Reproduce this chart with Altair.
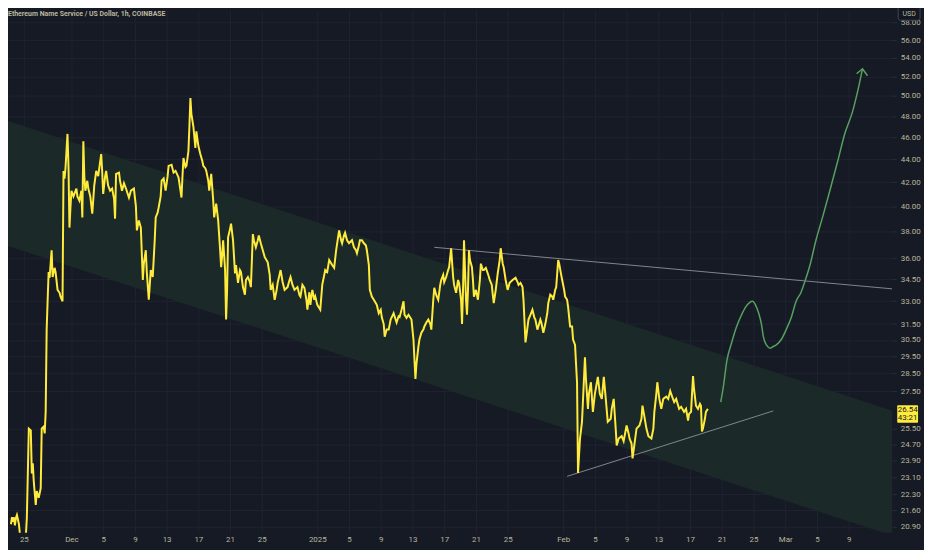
import altair as alt
import numpy as np
import pandas as pd

TITLE = "Ethereum Name Service / US Dollar, 1h, COINBASE"
BASE = pd.Timestamp("2024-11-22 00:00:00")
STEP_H = 3  # one time step = 3 hours after BASE

# ENS/USD hourly close, sampled (time in 3h steps after Nov 22, price in USD)
t3h = [
    11, 12, 13, 14, 15, 16, 17, 18, 19, 20,
    23, 26, 27, 29, 31, 32, 33, 34, 36, 37,
    39, 41, 42, 44, 45, 46, 47, 48, 49, 50,
    51, 52, 53, 55, 56, 58, 60, 61, 63, 64,
    65, 66, 68, 69, 70, 71, 72, 74, 77, 78,
    80, 82, 83, 84, 85, 86, 88, 89, 91, 93,
    95, 97, 99, 102, 103, 104, 106, 107, 109, 111,
    113, 115, 116, 117, 120, 121, 123, 125, 127, 130,
    132, 135, 137, 138, 140, 142, 144, 145, 147, 148,
    150, 152, 154, 156, 157, 159, 160, 162, 163, 165,
    167, 169, 170, 173, 175, 177, 180, 182, 183, 184,
    185, 187, 188, 190, 191, 192, 193, 195, 197, 198,
    200, 202, 204, 205, 207, 208, 210, 211, 213, 215,
    216, 218, 220, 222, 223, 224, 225, 227, 228, 229,
    230, 232, 233, 235, 237, 238, 240, 242, 243, 245,
    247, 248, 250, 252, 253, 255, 256, 258, 260, 261,
    263, 265, 267, 270, 272, 273, 275, 277, 279, 280,
    283, 285, 287, 290, 292, 293, 295, 297, 300, 302,
    303, 305, 307, 309, 310, 312, 313, 315, 317, 318,
    320, 323, 325, 328, 330, 332, 335, 337, 339, 342,
    344, 345, 347, 348, 350, 352, 355, 357, 359, 360,
    362, 363, 365, 367, 369, 370, 372, 373, 375, 377,
    380, 382, 384, 385, 387, 388, 390, 392, 394, 397,
    399, 400, 402, 403, 405, 407, 408, 410, 412, 415,
    417, 418, 419, 420, 422, 423, 425, 427, 428, 430,
    432, 434, 435, 437, 438, 440, 442, 444, 445, 447,
    448, 450, 452, 453, 455, 457, 458, 460, 462, 463,
    465, 466, 467, 468, 469, 470, 471, 472, 473, 474,
    476, 477, 478, 480, 482, 484, 485, 487, 488, 490,
    492, 494, 496, 497, 498, 500, 502, 504, 505, 507,
    508, 510, 512, 514, 517, 520, 522, 523, 525, 527,
    528, 530, 531, 533, 535, 537, 539, 540, 542, 543,
    545, 546, 548, 550, 552, 553, 555, 557, 558, 560,
    561, 563, 564, 566, 567, 569, 570, 572, 573, 575,
    577, 578, 580, 581, 582, 583, 585, 587, 589, 590,
    591, 593, 594, 596, 598, 600, 603, 605, 607, 609,
    611, 613, 616, 617, 619, 621, 622, 624, 627, 629,
    632, 634, 635, 637, 638, 640, 642, 645, 647, 648,
    650, 652, 654, 657, 659, 660, 662, 663, 665, 667,
    669, 672, 674, 676, 678, 680, 682, 685, 687, 690,
    692, 694, 695, 697, 699, 700, 702, 704, 706, 707,
    708, 709, 711, 712, 714,
]
price = [
    21.0, 21.3, 21.1, 21.3, 20.95, 21.27, 21.4, 21.2, 21.0, 20.6,
    20.4, 20.5, 21.27, 25.49, 25.4, 23.28, 23.76, 22.9, 21.84, 22.46,
    22.15, 22.59, 25.49, 25.59, 25.24, 26.37, 31.15, 33.09, 35.0, 34.6,
    35.6, 36.58, 34.65, 35.3, 35.0, 33.76, 33.56, 33.3, 32.99, 42.96,
    42.3, 43.2, 46.3, 43.4, 38.3, 39.9, 41.27, 40.8, 41.45, 40.8,
    40.45, 41.27, 39.1, 45.62, 42.5, 41.27, 42.11, 41.45, 40.8, 39.4,
    41.7, 42.96, 42.5, 44.45, 42.96, 41.0, 42.5, 42.96, 41.7, 41.27,
    41.45, 40.6, 39.0, 42.7, 42.8, 42.11, 41.27, 41.9, 41.45, 40.7,
    41.27, 41.45, 40.0, 38.08, 38.86, 38.3, 34.44, 35.6, 36.58, 35.0,
    33.09, 35.14, 34.65, 37.33, 39.1, 39.5, 39.9, 40.8, 42.11, 42.3,
    41.27, 42.5, 43.4, 43.5, 42.8, 42.96, 42.4, 41.27, 40.7, 42.5,
    44.1, 43.3, 43.4, 44.72, 47.0, 49.8, 48.2, 47.0, 45.0, 46.55,
    45.2, 44.45, 43.83, 43.4, 43.2, 42.96, 42.11, 41.27, 42.7, 40.45,
    39.1, 40.2, 38.86, 36.58, 35.35, 36.2, 37.33, 35.14, 31.79, 33.76,
    37.55, 38.2, 38.6, 37.33, 34.9, 35.5, 34.24, 35.14, 35.0, 33.95,
    33.43, 34.44, 34.65, 34.3, 33.95, 37.8, 37.33, 36.8, 37.33, 37.7,
    37.1, 36.58, 36.07, 35.7, 34.8, 33.76, 34.1, 33.09, 33.76, 34.24,
    35.14, 34.3, 33.76, 33.95, 34.44, 34.65, 34.1, 33.76, 33.95, 33.4,
    33.3, 34.1, 33.9, 33.09, 32.43, 33.6, 32.75, 33.76, 33.09, 33.3,
    32.75, 32.43, 34.1, 35.14, 35.0, 35.86, 35.5, 35.3, 36.58, 38.08,
    37.33, 37.1, 37.7, 37.9, 37.33, 37.1, 37.33, 36.8, 36.58, 36.36,
    36.95, 37.33, 37.33, 37.1, 36.95, 36.58, 35.5, 33.76, 33.3, 33.09,
    32.75, 32.2, 32.43, 31.95, 31.5, 30.7, 31.15, 31.15, 31.79, 32.2,
    31.79, 31.6, 32.0, 31.95, 32.43, 32.99, 32.1, 31.9, 32.1, 31.79,
    30.53, 29.33, 28.18, 29.05, 30.1, 30.53, 30.95, 31.15, 31.35, 31.6,
    31.79, 31.5, 31.15, 33.09, 33.9, 33.4, 33.09, 34.1, 34.44, 34.8,
    34.3, 34.65, 35.14, 35.35, 36.73, 34.65, 34.1, 33.56, 34.44, 34.24,
    33.09, 31.5, 33.76, 37.33, 35.14, 33.09, 32.1, 33.76, 36.58, 35.86,
    35.35, 34.44, 33.3, 33.76, 33.09, 34.44, 35.6, 35.14, 35.14, 35.3,
    34.9, 34.44, 34.1, 33.43, 32.87, 33.76, 34.9, 35.86, 36.73, 35.6,
    35.35, 34.44, 33.76, 34.24, 34.44, 34.6, 34.3, 34.1, 34.24, 33.95,
    33.09, 30.35, 30.8, 31.79, 32.1, 32.43, 31.9, 31.79, 31.15, 31.35,
    31.79, 31.6, 30.95, 31.5, 32.2, 32.87, 33.43, 33.3, 33.09, 33.76,
    33.95, 35.86, 35.6, 34.8, 34.44, 33.76, 33.3, 33.09, 32.6, 31.35,
    31.35, 30.53, 30.2, 29.05, 28.0, 23.3, 24.98, 25.84, 28.18, 29.45,
    28.18, 26.53, 27.35, 28.0, 26.37, 27.35, 28.3, 27.35, 27.07, 28.3,
    27.07, 25.84, 26.0, 26.53, 27.07, 25.49, 24.63, 24.98, 25.1, 24.85,
    25.65, 25.24, 24.98, 24.73, 24.0, 24.73, 25.49, 25.65, 26.0, 26.7,
    26.1, 25.49, 25.1, 24.98, 25.49, 26.37, 27.35, 28.0, 27.07, 26.53,
    27.07, 27.2, 27.07, 27.51, 27.18, 26.9, 27.07, 26.53, 26.64, 26.37,
    26.53, 25.9, 26.26, 26.37, 28.35, 27.62, 26.7, 26.53, 26.8, 26.7,
    25.34, 25.49, 26.0, 26.37, 26.53,
]

# descending channel (shaded band)
band_t3h = [0, 900]
band_upper = [47.78, 26.43]
band_lower = [37.10, 20.52]

# drawn trend lines
res_t3h = [438, 900]
res_price = [36.80, 33.83]
sup_t3h = [572, 780]
sup_price = [23.14, 26.42]

# projected path (green arrow)
proj_t3h = [727, 730, 733, 738, 743, 748, 752, 756, 759, 762, 765, 768, 770, 773, 777, 780,
            783, 788, 793, 798, 803, 808, 812, 817, 823, 830, 837, 845, 852, 860, 865, 870]
proj_price = [26.9, 27.9, 29.2, 30.35, 31.35, 32.1, 32.6, 32.9, 32.99, 32.75, 32.25, 31.5, 30.7,
              30.2, 30.0, 30.1, 30.2, 30.53, 31.15, 31.9, 32.99, 33.6, 34.37, 35.5, 37.33, 39.2,
              41.27, 43.83, 46.3, 48.46, 50.44, 52.83]
arrow_t3h = [864, 870, 875]
arrow_price = [52.3, 52.83, 52.09]

last_price = 26.54
last_box = [26.72, 25.79]
countdown = "43:21"

y_ticks = [20.9, 21.6, 22.3, 23.1, 23.9, 24.7, 25.5, 27.5, 28.5, 29.5, 30.5, 31.5, 33.0, 34.5,
           36.0, 38.0, 40.0, 42.0, 44.0, 46.0, 48.0, 50.0, 52.0, 54.0, 56.0, 58.0]
tick_dates = ["2024-11-25", "2024-12-01", "2024-12-05", "2024-12-09", "2024-12-13", "2024-12-17",
              "2024-12-21", "2024-12-25", "2025-01-01", "2025-01-05", "2025-01-09", "2025-01-13",
              "2025-01-17", "2025-01-21", "2025-01-25", "2025-02-01", "2025-02-05", "2025-02-09",
              "2025-02-13", "2025-02-17", "2025-02-21", "2025-02-25", "2025-03-01", "2025-03-05",
              "2025-03-09"]
tick_labels = ["25", "Dec", "5", "9", "13", "17", "21", "25", "2025", "5", "9", "13", "17", "21",
               "25", "Feb", "5", "9", "13", "17", "21", "25", "Mar", "5", "9"]

BG = "#161a25"
GRID = "#1f2331"
BAND = "#1b2a29"
TXT = "#bab79c"
FONT = "Liberation Sans Narrow, Roboto, sans-serif"


def to_time(steps):
    return BASE + pd.to_timedelta(np.array(steps, dtype=float) * STEP_H, unit="h")


price_df = pd.DataFrame({"t": to_time(t3h), "p": price})
band_df = pd.DataFrame({"t": to_time(band_t3h), "hi": band_upper, "lo": band_lower})
trend_df = pd.concat([
    pd.DataFrame({"t": to_time(res_t3h), "p": res_price, "id": "res"}),
    pd.DataFrame({"t": to_time(sup_t3h), "p": sup_price, "id": "sup"}),
])
proj_df = pd.DataFrame({"t": to_time(proj_t3h), "p": proj_price})
arrow_df = pd.DataFrame({"t": to_time(arrow_t3h), "p": arrow_price})
box_df = pd.DataFrame({"top": [last_box[0]], "bot": [last_box[1]], "p": [last_price],
                       "lab": [f"{last_price:.2f}"], "cd": [countdown]})
one = pd.DataFrame({"a": [0]})

tick_dt = []
expr = "''"
for d, lab in reversed(list(zip(tick_dates, tick_labels))):
    yy, mm, dd = (int(v) for v in d.split("-"))
    tick_dt.append(alt.DateTime(year=yy, month=mm, date=dd))
    expr = f"(month(datum.value)=={mm - 1} && date(datum.value)=={dd}) ? '{lab}' : ({expr})"
tick_dt = tick_dt[::-1]

xscale = alt.Scale(domain=[alt.DateTime(year=2024, month=11, date=23, hours=0),
                           alt.DateTime(year=2025, month=3, date=14, hours=12)])
yscale = alt.Scale(type="log", domain=[20.64, 59.47], nice=False)

x_axis = alt.Axis(values=tick_dt, labelExpr=expr, title=None, grid=True, gridColor=GRID,
                  ticks=False, domain=False, labelColor=TXT, labelFont=FONT, labelFontSize=8,
                  labelPadding=3, labelOverlap=False, labelFlush=False)
y_axis = alt.Axis(orient="right", values=y_ticks, format=".2f", title=None, grid=True,
                  gridColor=GRID, tickColor="#2a2e39", tickSize=4, domain=False, labelColor=TXT,
                  labelFont=FONT, labelFontSize=8, labelPadding=4, labelOverlap=False)


def X():
    return alt.X("t:T", scale=xscale, axis=x_axis)


def Y(f="p"):
    return alt.Y(f"{f}:Q", scale=yscale, axis=y_axis)


band = alt.Chart(band_df).mark_area(color=BAND, clip=True).encode(
    x=X(), y=Y("hi"), y2="lo:Q")
trend = alt.Chart(trend_df).mark_line(color="#83868f", strokeWidth=1, clip=True).encode(
    x=X(), y=Y(), detail="id:N")
line = alt.Chart(price_df).mark_line(color="#ffeb3b", strokeWidth=2, clip=True).encode(
    x=X(), y=Y())
proj = alt.Chart(proj_df).mark_line(color="#58a05f", strokeWidth=1.5, interpolate="monotone",
                                    clip=True).encode(x=X(), y=Y())
arrow = alt.Chart(arrow_df).mark_line(color="#58a05f", strokeWidth=1.5, clip=True).encode(
    x=X(), y=Y())

pbox = alt.Chart(box_df).mark_rect(color="#ffeb3b", cornerRadius=1).encode(
    x=alt.value(897), x2=alt.value(918), y=Y("top"), y2="bot:Q")
ptxt = alt.Chart(box_df).mark_text(color="#131722", font=FONT, fontSize=8,
                                   baseline="middle", align="center", dy=1).encode(
    x=alt.value(907.5), y=Y(), text="lab:N")
ctxt = alt.Chart(box_df).mark_text(color="#131722", font=FONT, fontSize=8,
                                   baseline="middle", align="center", dy=9).encode(
    x=alt.value(907.5), y=Y(), text="cd:N")
ubox = alt.Chart(one).mark_rect(fill="#131722", stroke="#434651", strokeWidth=1,
                                cornerRadius=2).encode(
    x=alt.value(898), x2=alt.value(920), y=alt.value(-4), y2=alt.value(10))
utxt = alt.Chart(one).mark_text(text="USD", color=TXT, font=FONT, fontSize=7,
                                baseline="middle", align="center").encode(
    x=alt.value(909), y=alt.value(4))
title = alt.Chart(one).mark_text(text=TITLE, color=TXT, font=FONT, fontSize=7,
                                 fontWeight="bold", baseline="middle", align="left").encode(
    x=alt.value(0), y=alt.value(4))

chart = alt.layer(band, trend, line, proj, arrow, pbox, ptxt, ctxt, ubox, utxt, title).properties(
    width=892, height=527,
    autosize=alt.AutoSizeParams(type="none"),
    padding={"left": 0, "top": 0, "right": 32, "bottom": 15},
    background=BG,
).configure_view(stroke=None)

chart.save("out.html", embed_options={"renderer": "svg", "actions": False})
